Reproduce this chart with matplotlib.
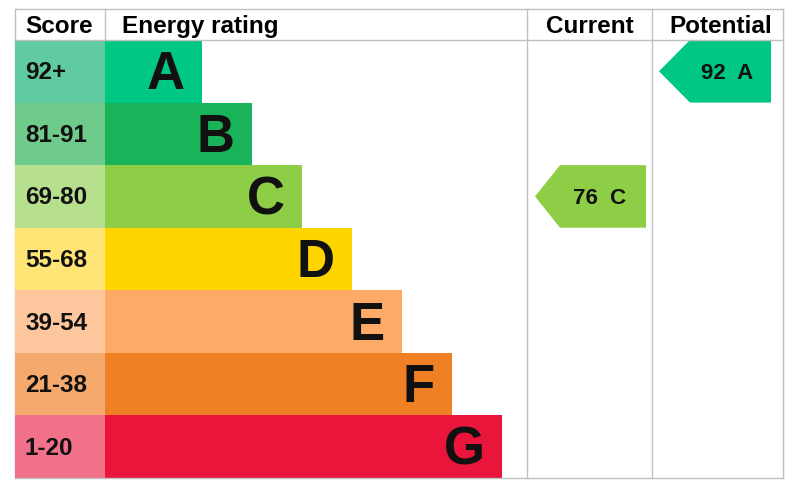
import matplotlib.pyplot as plt
from matplotlib.patches import Rectangle, Polygon

# ratings table
bands = ['A', 'B', 'C', 'D', 'E', 'F', 'G']
scores = ['92+', '81-91', '69-80', '55-68', '39-54', '21-38', '1-20']
bar_colors = ['#00c781', '#19b459', '#8dce46', '#ffd500', '#fcaa65', '#ef8023', '#e9153b']
score_colors = ['#60cba1', '#6fcb8b', '#b7e08e', '#ffe476', '#fdc69c', '#f5a96c', '#f2718a']

current_score, current_band = 76, 'C'
potential_score, potential_band = 92, 'A'

headers = ['Score', 'Energy rating', 'Current', 'Potential']

plt.rcParams['font.family'] = ['Liberation Sans', 'DejaVu Sans']

fig = plt.figure(figsize=(8.01, 4.86), dpi=100)
ax = fig.add_axes([0, 0, 1, 1])
ax.set_xlim(0, 801)
ax.set_ylim(486, 0)
ax.axis('off')

# column edges / row geometry (pixels)
x_left, x_score, x_cur, x_pot, x_right = 15, 105, 527, 652, 783
y_top, y_head, y_bot = 9, 40, 478
row_h = (y_bot - y_head) / len(bands)
grid = '#c0c0c0'
ink = '#111111'

# header text
hb = 33
ax.text(x_left + 10, hb, headers[0], fontsize=17.5, fontweight='bold', va='baseline', ha='left')
ax.text(x_score + 17, hb, headers[1], fontsize=17.5, fontweight='bold', va='baseline', ha='left')
ax.text(590, hb, headers[2], fontsize=17.5, fontweight='bold', va='baseline', ha='center')
ax.text(721, hb, headers[3], fontsize=17.5, fontweight='bold', va='baseline', ha='center')

for i, (b, s) in enumerate(zip(bands, scores)):
    y0 = y_head + i * row_h
    yc = y0 + row_h / 2
    bar_end = 202 + 50 * i
    ax.add_patch(Rectangle((x_left, y0), x_score - x_left, row_h, color=score_colors[i], lw=0))
    ax.add_patch(Rectangle((x_score, y0), bar_end - x_score, row_h, color=bar_colors[i], lw=0))
    ax.text(x_left + 10, yc + 8, s, fontsize=17.5, fontweight='bold',
            va='baseline', ha='left', color=ink)
    ax.text(bar_end - 17, yc + 18, b, fontsize=38, fontweight='bold',
            va='baseline', ha='right', color=ink)


def arrow(score, band, x_tip, x_body, x_end):
    i = bands.index(band)
    y0 = y_head + i * row_h
    y1 = y0 + row_h
    yc = (y0 + y1) / 2
    pts = [(x_tip, yc), (x_body, y0), (x_end, y0), (x_end, y1), (x_body, y1)]
    ax.add_patch(Polygon(pts, closed=True, color=bar_colors[i], lw=0))
    ax.text((x_body + x_end) / 2 - 3, yc + 8, f'{score}  {band}', fontsize=16,
            fontweight='bold', va='baseline', ha='center', color=ink)


arrow(current_score, current_band, 535, 560, 646)
arrow(potential_score, potential_band, 659, 690, 771)

# grid lines
lw = 1.0
for y in [y_top, y_head, y_bot]:
    ax.plot([x_left, x_right], [y, y], color=grid, lw=lw)
for x in [x_left, x_score, x_cur, x_pot, x_right]:
    ax.plot([x, x], [y_top, y_bot], color=grid, lw=lw, zorder=0)

fig.savefig('out.png', dpi=100)
